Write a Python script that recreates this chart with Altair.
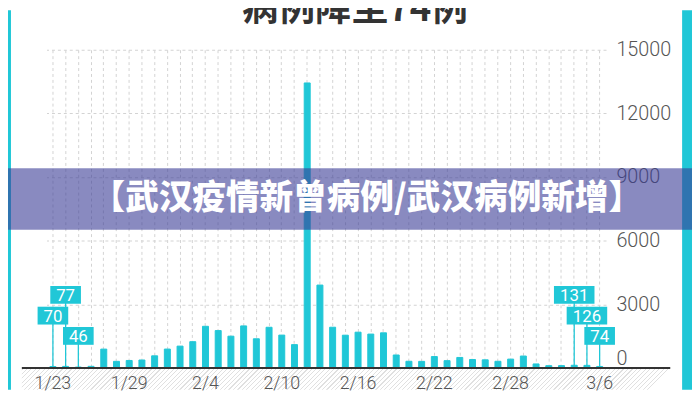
import altair as alt
import pandas as pd

# ---------------- data ----------------
DATES = ["1/23", "1/24", "1/25", "1/26", "1/27", "1/28", "1/29", "1/30", "1/31",
         "2/1", "2/2", "2/3", "2/4", "2/5", "2/6", "2/7", "2/8", "2/9", "2/10",
         "2/11", "2/12", "2/13", "2/14", "2/15", "2/16", "2/17", "2/18", "2/19",
         "2/20", "2/21", "2/22", "2/23", "2/24", "2/25", "2/26", "2/27", "2/28",
         "2/29", "3/1", "3/2", "3/3", "3/4", "3/5", "3/6"]
CASES = [70, 77, 46, 80, 892, 315, 356, 378, 576,
         894, 1033, 1242, 1967, 1766, 1501, 1985, 1379, 1921, 1552,
         1104, 13436, 3910, 1923, 1548, 1690, 1600, 1660, 615,
         319, 314, 541, 348, 499, 401, 387, 318, 420,
         565, 193, 111, 114, 131, 126, 74]
X_TICKS = ["1/23", "1/29", "2/4", "2/10", "2/16", "2/22", "2/28", "3/6"]
Y_TICKS = [0, 3000, 6000, 9000, 12000, 15000]
LABEL_DATES = ["1/23", "1/24", "1/25", "3/4", "3/5", "3/6"]
LABEL_TIER = [1, 0, 2, 0, 1, 2]
TITLE_TEXT = "病例降至74例"
BANNER_TEXT = "【武汉疫情新曾病例/武汉病例新增】"

# ---------------- style ----------------
W, H = 566, 322
CYAN = "#20c7d7"
FONT = "Roboto"
CJK = "Noto Sans CJK SC"
TIER_CENTER = {0: 3450, 1: 2470, 2: 1515}
BOX_HALF = 420

df = pd.DataFrame({"date": DATES, "cases": CASES})
ticks_df = pd.DataFrame({"date": X_TICKS})

lab = pd.DataFrame({"date": LABEL_DATES, "tier": LABEL_TIER})
lab["cases"] = [CASES[DATES.index(d)] for d in LABEL_DATES]
lab["txt"] = lab["cases"].astype(str)
lab["yc"] = lab["tier"].map(TIER_CENTER)
lab["ylo"] = lab["yc"] - BOX_HALF
lab["yhi"] = lab["yc"] + BOX_HALF
lab["base"] = 0

xscale = alt.Scale(paddingInner=0.53, paddingOuter=0.265)
xaxis = alt.Axis(
    title=None, labels=False, bandPosition=0.5, grid=True, gridDash=[3, 3],
    gridColor="#d2d2d2", domain=False, ticks=False, tickSize=0,
)
yscale = alt.Scale(domain=[0, 15000], nice=False)
yaxis = alt.Axis(
    orient="right", values=Y_TICKS, title=None, grid=True, gridDash=[3, 3],
    gridColor="#d2d2d2", domain=False, ticks=False, tickSize=0, labelPadding=10,
    labelFontSize=20, labelColor="#555555", labelFont=FONT, labelFontWeight=300,
    labelAlign="left", format="d",
    labelBaseline={"condition": {"test": "datum.value === 0", "value": "bottom"}, "value": "middle"},
)

def X():
    return alt.X("date:N", sort=DATES, scale=xscale, axis=xaxis)

def Y(field):
    return alt.Y(field, scale=yscale, axis=yaxis)

bars = alt.Chart(df).mark_bar(color=CYAN, stroke=CYAN, strokeWidth=1).encode(
    x=X(), y=Y("cases:Q")
)

leaders = alt.Chart(lab).mark_rule(color=CYAN, strokeWidth=1.3).encode(
    x=X(), y=Y("base:Q"), y2="yc:Q"
)
box2 = alt.Chart(lab).transform_filter("length(datum.txt) == 2").mark_bar(
    width=31, color=CYAN
).encode(x=X(), y=Y("ylo:Q"), y2="yhi:Q")
box3 = alt.Chart(lab).transform_filter("length(datum.txt) == 3").mark_bar(
    width=41, color=CYAN
).encode(x=X(), y=Y("ylo:Q"), y2="yhi:Q")
label_text = alt.Chart(lab).mark_text(
    color="white", fontSize=17, font=FONT, baseline="middle", dy=1
).encode(x=X(), y=Y("yc:Q"), text="txt:N")

one = pd.DataFrame({"k": [0]})

def box(x1, x2, y1, y2, **kw):
    return alt.Chart(one).mark_rect(**kw).encode(
        x=alt.value(x1), x2=alt.value(x2), y=alt.value(y1), y2=alt.value(y2)
    )

# side borders
left_border = box(-39, -36, -40, 344, color=CYAN)
right_border = box(643, 653, -40, 344, color=CYAN)

# hatched ground below the baseline
P, SW, GW = 4.5, 1.2, 656.0
HATCH = "#e0e0e0"
stops = []
k = 0
while k * P < GW:
    a = k * P / GW
    b = min((k * P + SW) / GW, 1.0)
    c = min((k + 1) * P / GW, 1.0)
    stops += [alt.GradientStop(offset=a, color=HATCH),
              alt.GradientStop(offset=b, color=HATCH),
              alt.GradientStop(offset=b, color="#ffffff"),
              alt.GradientStop(offset=c, color="#ffffff")]
    k += 1
hatch = box(-25, 631, 323, 344, color=alt.LinearGradient(
    gradient="linear", stops=stops, x1=0, y1=0, x2=1, y2=21 / 656))

baseline = alt.Chart(one).mark_rule(color="#333333", strokeWidth=2).encode(
    x=alt.value(-25), x2=alt.value(631), y=alt.value(H)
)

# x tick labels (drawn through the x scale, above the hatched ground)
xlabels = alt.Chart(ticks_df).mark_text(
    font=FONT, fontSize=18, fontWeight=300, color="#555555",
    align="center", baseline="middle"
).encode(x=X(), y=alt.value(H + 16), text="date:N")

title = alt.Chart(one).mark_text(
    text=TITLE_TEXT, font=CJK, fontSize=37, fontWeight="bold", color="#333333",
    align="center", baseline="alphabetic"
).encode(x=alt.value(312), y=alt.value(-29))

band = box(-39, 653, 120, 182, color="#3a3c96", opacity=0.6)
band_text = alt.Chart(one).mark_text(
    text=BANNER_TEXT, font=CJK, fontSize=34, fontWeight=900, color="white",
    align="center", baseline="middle"
).encode(x=alt.value(324), y=alt.value(151))

chart = alt.layer(
    left_border, right_border, hatch, bars, leaders, box2, box3, label_text,
    baseline, xlabels, title, band, band_text
).properties(
    width=W, height=H,
    autosize=alt.AutoSizeParams(type="none"),
    padding={"left": 39, "top": 40, "right": 87, "bottom": 22},
    background="white",
).configure_view(stroke=None)

chart.save("out.html", embed_options={"renderer": "svg", "actions": False})
